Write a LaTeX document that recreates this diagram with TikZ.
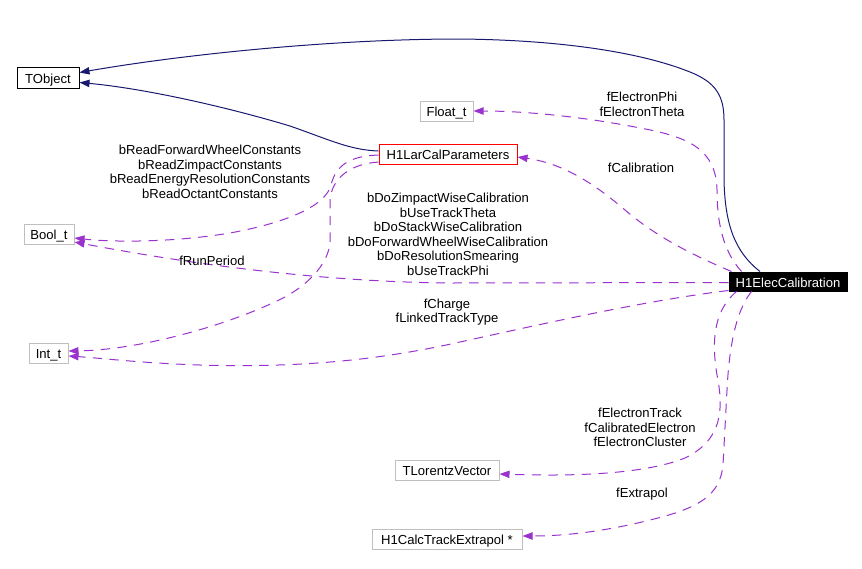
\documentclass[tikz,border=0pt]{standalone}
\usepackage{fontspec}
\setmainfont{Liberation Sans}
\usepackage{xcolor}
\usepackage{tikz}
\usetikzlibrary{
    arrows.meta,
    calc
}
\definecolor{usepurple}{RGB}{154,50,205}
\definecolor{inhnavy}{RGB}{25,25,112}
\definecolor{boxgray}{RGB}{191,191,191}

\begin{document}
\begin{tikzpicture}[
    x=0.75pt, y=-0.75pt,
    line width=0.75pt,
    every node/.style={font=\fontsize{9.8}{10.9}\selectfont, inner sep=0pt},
    klass/.style={
        rectangle,
        draw=#1,
        fill=white,
        text height=8.9pt,
        text depth=0.2pt,
        minimum height=15pt
    },
    inherit/.style={
        -{Triangle[length=7.5pt,width=5.5pt]},
        inhnavy
    },
    usage/.style={
        -{Triangle[length=7.5pt,width=5.5pt]},
        usepurple,
        dash pattern=on 7pt off 5.5pt
    },
    mlabel/.style={
        align=center
    }
]
    \useasboundingbox (0,0) rectangle (862,568);

    % Classes
    \node[klass=black, minimum width=46.5pt, minimum height=15.75pt] (tobject) at (48,77.5) {TObject};
    \node[klass=boxgray, minimum width=39.75pt] (float) at (446.5,111) {Float\_t};
    \node[klass=red, minimum width=103.5pt] (larcal) at (448,154) {H1LarCalParameters};
    \node[klass=boxgray, minimum width=37.5pt] (bool) at (49,234) {Bool\_t};
    \node[klass=boxgray, minimum width=29.25pt] (int) at (48.5,353) {Int\_t};
    \node[klass=black, fill=black, text=white, minimum width=88.5pt, minimum height=14.25pt] (elec) at (788,281.5) {H1ElecCalibration};
    \node[klass=boxgray, minimum width=78pt] (lorentz) at (447,470) {TLorentzVector};
    \node[klass=boxgray, minimum width=112.5pt] (extrapol) at (447,539) {H1CalcTrackExtrapol *};

    % Inheritance
    \draw[inherit] ($(elec.north)+(-28,0)$)
        .. controls (735,252) and (725,225) .. (724,180) -- (724,120)
        .. controls (724,95) and (715,82) .. (690,72)
        .. controls (640,52) and (560,40) .. (460,39)
        .. controls (330,39) and (180,55) .. ($(tobject.east)+(0,-5)$);
    \draw[inherit] ($(larcal.west)+(0,-3)$)
        .. controls (350,150) and (330,140) .. (290,126)
        .. controls (220,105) and (140,88) .. ($(tobject.east)+(0,5)$);

    % Members of H1ElecCalibration
    \draw[usage] ($(elec.north west)+(13,0)$)
        .. controls (722,250) and (717,220) .. (717,190)
        .. controls (716,150) and (690,137) .. (640,128)
        .. controls (590,118) and (530,111) .. (float.east);
    \draw[usage] ($(elec.north west)+(3,0)$)
        .. controls (700,258) and (660,240) .. (625,210)
        .. controls (590,180) and (560,163) .. ($(larcal.east)+(0,3)$);
    \draw[usage] ($(elec.west)+(0,1)$) -- (450,283)
        .. controls (330,282) and (200,266) .. ($(bool.east)+(0,8)$);
    \draw[usage] ($(elec.south west)+(0,-1)$)
        .. controls (650,300) and (560,320) .. (460,342)
        .. controls (380,360) and (300,368) .. (200,365)
        .. controls (140,363) and (100,358) .. ($(int.east)+(0,3)$);
    \draw[usage] ($(elec.south west)+(8,0)$)
        .. controls (712,312) and (712,345) .. (717,375)
        .. controls (724,410) and (722,440) .. (685,458)
        .. controls (640,476) and (560,476) .. ($(lorentz.east)+(0,4)$);
    \draw[usage] ($(elec.south west)+(23,0)$)
        .. controls (735,312) and (729,350) .. (727,390) -- (723,465)
        .. controls (720,495) and (700,508) .. (650,520)
        .. controls (610,530) and (570,536) .. ($(extrapol.east)+(0,-3)$);

    % Members of H1LarCalParameters
    \draw[usage] ($(larcal.west)+(0,1)$)
        .. controls (350,156) and (336,165) .. (331,185)
        .. controls (326,205) and (290,222) .. (230,233)
        .. controls (170,243) and (110,242) .. ($(bool.east)+(0,4)$);
    \draw[usage] ($(larcal.west)+(0,8)$)
        .. controls (350,164) and (332,178) .. (330,200) -- (330,243)
        .. controls (328,262) and (312,282) .. (285,297)
        .. controls (230,325) and (140,350) .. ($(int.east)+(0,-2)$);

    % Member labels
    \node[mlabel] (lphi) at (642,104.5) {fElectronPhi\\fElectronTheta};
    \node[mlabel] (lcalib) at (641,168) {fCalibration};
    \node[mlabel] (lread) at (210,172) {bReadForwardWheelConstants\\bReadZimpactConstants\\bReadEnergyResolutionConstants\\bReadOctantConstants};
    \node[mlabel] (lflags) at (448,234.5) {bDoZimpactWiseCalibration\\bUseTrackTheta\\bDoStackWiseCalibration\\bDoForwardWheelWiseCalibration\\bDoResolutionSmearing\\bUseTrackPhi};
    \node[mlabel] (lrun) at (212,261) {fRunPeriod};
    \node[mlabel] (lcharge) at (447,312) {fCharge\\fLinkedTrackType};
    \node[mlabel] (ltrack) at (640,427.5) {fElectronTrack\\fCalibratedElectron\\fElectronCluster};
    \node[mlabel] (lextra) at (642,494) {fExtrapol};

\end{tikzpicture}
\end{document}
